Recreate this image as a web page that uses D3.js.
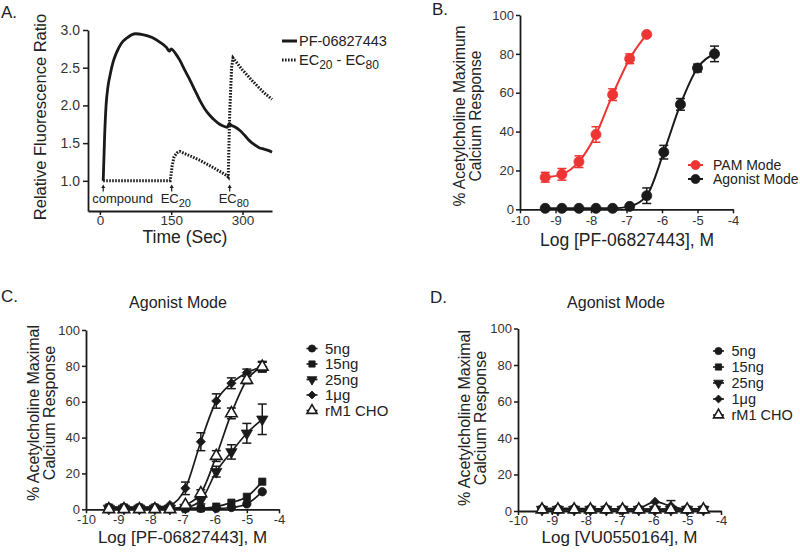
<!DOCTYPE html>
<html><head><meta charset="utf-8">
<script src="https://cdn.jsdelivr.net/npm/d3@7"></script>
<style>
body{margin:0;background:#fff}
svg{display:block}
text{font-family:"Liberation Sans",Arial,Helvetica,sans-serif;fill:#222}
</style>
</head><body>
<svg id="c" width="800" height="552"></svg>
<script>
// ---------------- Panel A data ----------------
const timeSolid  = [7, 10, 13, 17, 22, 28, 35, 45, 58, 75, 90, 110, 126, 140, 146, 150, 154, 160, 168, 180, 190, 200, 210, 220, 231, 242, 252, 262, 268, 272, 276, 285, 294, 305, 315, 325, 335, 345, 355, 362];
const ratioSolid = [1.0, 1.6, 2.0, 2.25, 2.42, 2.58, 2.7, 2.82, 2.9, 2.95, 2.94, 2.9, 2.84, 2.77, 2.72, 2.75, 2.73, 2.68, 2.6, 2.45, 2.33, 2.2, 2.07, 1.96, 1.87, 1.8, 1.75, 1.72, 1.71, 1.76, 1.74, 1.71, 1.67, 1.6, 1.53, 1.48, 1.44, 1.42, 1.40, 1.38];
const timeDotted  = [7, 148, 152, 156, 162, 168, 190, 211, 240, 267, 270, 273, 277, 280, 290, 300, 323, 345, 362];
const ratioDotted = [1.0, 1.0, 1.2, 1.32, 1.37, 1.39, 1.33, 1.27, 1.17, 1.07, 1.05, 1.9, 2.5, 2.63, 2.55, 2.47, 2.31, 2.17, 2.08];
const timeTicks  = [0, 150, 300];
const ratioTicks = [1.0, 1.5, 2.0, 2.5, 3.0];
const eventTimes  = [7, 151, 273];
const eventLabels = ["compound", "EC|20", "EC|80"];

// ---------------- Dose-response data ----------------
const logConc = [-9.29, -8.82, -8.34, -7.86, -7.39, -6.91, -6.43, -5.95, -5.48, -5.0, -4.52];
const logTicks = [-10, -9, -8, -7, -6, -5, -4];
const pctTicks = [0, 20, 40, 60, 80, 100];

// Panel B
const pamMean = [16.5, 18, 24.5, 38.5, 59, 77.5, 90];
const pamErr  = [2.5, 3, 3, 4, 3, 2.5, 1];
const agoMean = [0.5, 0.5, 0.5, 0.5, 0.5, 1.5, 7, 29.4, 54, 72.7, 80];
const agoErr  = [0.5, 0.5, 0.5, 0.5, 0.5, 1, 4, 3.5, 3, 2, 4];

// Panel C (PF-06827443, agonist mode)
const c5ng   = [1, 1, 1, 1, 0.5, 0.5, 0.5, 0.5, 1, 3, 9.8];
const c15ng  = [1, 1, 1, 1, 0.5, 0.5, 0.5, 1.5, 3.7, 7, 15.4];
const c25ng  = [0.5, 0.5, 0.5, 0.5, 0.5, 1, 5, 21, 32, 42.4, 50.2];
const c1ug   = [1.2, 1.2, 1.2, 1.2, 2.4, 11.7, 37.7, 60.4, 70.3, 76.2, 79.5];
const cCHO   = [0, 0, 0, 0, 0, 2.4, 8.9, 29.7, 53.5, 72.1, 79.5];
const c5ngE  = [0.5, 0.5, 0.5, 0.5, 0.5, 0.5, 0.5, 0.5, 0.5, 1, 1];
const c15ngE = [0.5, 0.5, 0.5, 0.5, 0.5, 0.5, 0.5, 0.5, 1, 1, 1];
const c25ngE = [0.5, 0.5, 0.5, 0.5, 0.5, 1, 2, 3, 4, 5.5, 8.5];
const c1ugE  = [0.5, 0.5, 0.5, 0.5, 1, 3.5, 5, 4, 3, 2, 2.5];
const cCHOE  = [0.5, 0.5, 0.5, 0.5, 0.5, 1, 2, 3, 3, 2, 3];

// Panel D (VU0550164, agonist mode)
const d5ng   = [1.2, 1.2, 1.2, 1.2, 1.2, 1, 1, 1, 1, 1, 1];
const d15ng  = [0.8, 0.8, 0.8, 0.8, 0.8, 0.8, 0.8, 0.8, 0.8, 0.8, 0.8];
const d25ng  = [0.8, 0.8, 0.8, 0.8, 0.8, 0.8, 0.8, 0.8, 0.8, 0.8, 0.8];
const d1ug   = [1.5, 1.5, 1.5, 1.2, 1, 1, 1.5, 5, 2.7, 1, 1.5];
const dCHO   = [0.8, 0.8, 0.8, 0.8, 0.8, 0.8, 0.8, 0.8, 0.8, 0.8, 0.8];
const dErr   = [0.5, 0.5, 0.5, 0.5, 0.5, 0.5, 0.5, 1, 3, 0.5, 0.5];

const seriesNames = ["5ng", "15ng", "25ng", "1\u03bcg", "rM1 CHO"];
const seriesShapes = ["circle", "square", "invtri", "diamond", "opentri"];

const svg = d3.select("#c");
const INK = "#1a1a1a";
const RED = "#ef3434";
const intFmt = d => (d < 0 ? "-" + Math.abs(d) : String(d));

function styleAxis(g, fs) {
  g.select(".domain").attr("stroke", INK).attr("stroke-width", 1.8);
  g.selectAll(".tick line").attr("stroke", INK).attr("stroke-width", 1.5);
  g.selectAll(".tick text").attr("font-size", fs).style("fill", "#333");
}

function marker(g, shape, x, y, color, k) {
  k = k || 1;
  const s = g.append("path").attr("transform", `translate(${x},${y})`);
  if (shape === "circle") s.attr("d", d3.symbol(d3.symbolCircle, 55 * k)());
  else if (shape === "bigcircle") s.attr("d", d3.symbol(d3.symbolCircle, 80 * k)());
  else if (shape === "square") s.attr("d", d3.symbol(d3.symbolSquare, 52 * k)());
  else if (shape === "invtri") s.attr("d", d3.symbol(d3.symbolTriangle, 55 * k)()).attr("transform", `translate(${x},${y}) rotate(180)`);
  else if (shape === "diamond") s.attr("d", d3.symbol(d3.symbolSquare, 42 * k)()).attr("transform", `translate(${x},${y}) rotate(45)`);
  else if (shape === "opentri") s.attr("d", d3.symbol(d3.symbolTriangle, 58 * k)());
  if (shape === "opentri") s.attr("fill", "#fff").attr("stroke", color).attr("stroke-width", 1.6);
  else s.attr("fill", color).attr("stroke", color).attr("stroke-width", 0.8);
}

// ---------------- Panel A ----------------
(function(){
  const x = d3.scaleLinear().domain([-25, 362]).range([88, 272]);
  const y = d3.scaleLinear().domain([0.6, 3.0]).range([211, 30]);
  const g = svg.append("g");
  const ax = g.append("g").attr("transform", "translate(0,211)")
    .call(d3.axisBottom(x).tickValues(timeTicks).tickFormat(intFmt).tickSize(4).tickPadding(0).tickSizeOuter(0));
  styleAxis(ax, 13.5);
  const ay = g.append("g").attr("transform", "translate(88,0)")
    .call(d3.axisLeft(y).tickValues(ratioTicks).tickFormat(d3.format(".1f")).tickSize(5).tickPadding(3).tickSizeOuter(0));
  styleAxis(ay, 14);

  const dotted = timeDotted.map((t, i) => [t, ratioDotted[i]]);
  const solid = timeSolid.map((t, i) => [t, ratioSolid[i]]);
  g.append("path").attr("d", d3.line().x(d => x(d[0])).y(d => y(d[1]))(dotted))
    .attr("fill", "none").attr("stroke", INK)
    .attr("stroke-width", 3).attr("stroke-dasharray", "1.6,1.4");
  g.append("path").attr("d", d3.line().x(d => x(d[0])).y(d => y(d[1])).curve(d3.curveMonotoneX)(solid))
    .attr("fill", "none").attr("stroke", INK).attr("stroke-width", 2.8);

  eventTimes.forEach((t, i) => {
    const px = x(t);
    g.append("line").attr("x1", px).attr("x2", px).attr("y1", 187).attr("y2", 191.5).attr("stroke", INK).attr("stroke-width", 1.2);
    g.append("path").attr("d", `M${px-2},${188} L${px},${184.5} L${px+2},${188} Z`).attr("fill", INK);
    const parts = eventLabels[i].split("|");
    const tx = g.append("text").attr("x", px - 11).attr("y", 203).attr("font-size", 13);
    tx.append("tspan").text(parts[0]);
    if (parts[1]) tx.append("tspan").attr("font-size", 11).attr("dy", 3.5).text(parts[1]);
  });

  g.append("text").attr("x", 185).attr("y", 243).attr("text-anchor", "middle").attr("font-size", 17.5).text("Time (Sec)");
  g.append("text").attr("transform", "translate(46,117) rotate(-90)").attr("text-anchor", "middle").attr("font-size", 16.5).text("Relative Fluorescence Ratio");
  g.append("text").attr("x", 1).attr("y", 18).attr("font-size", 17).text("A.");

  // legend
  g.append("line").attr("x1", 282).attr("x2", 297).attr("y1", 41).attr("y2", 41).attr("stroke", INK).attr("stroke-width", 3);
  g.append("text").attr("x", 299).attr("y", 46).attr("font-size", 14.5).text("PF-06827443");
  g.append("line").attr("x1", 282).attr("x2", 297).attr("y1", 60).attr("y2", 60).attr("stroke", INK).attr("stroke-width", 3).attr("stroke-dasharray", "1.6,1.4");
  const lt = g.append("text").attr("x", 299).attr("y", 65).attr("font-size", 14.5);
  lt.append("tspan").text("EC");
  lt.append("tspan").attr("font-size", 12).attr("dy", 4).text("20");
  lt.append("tspan").attr("dy", -4).text(" - EC");
  lt.append("tspan").attr("font-size", 12).attr("dy", 4).text("80");
})();

// ---------------- Dose-response panel helper ----------------
function dosePanel(cfg) {
  const x = d3.scaleLinear().domain([-10, -4]).range([cfg.x0, cfg.x1]);
  const y = d3.scaleLinear().domain([0, 100]).range([cfg.yb, cfg.yt]);
  const g = svg.append("g");
  const ax = g.append("g").attr("transform", `translate(0,${cfg.yb})`)
    .call(d3.axisBottom(x).tickValues(logTicks).tickFormat(intFmt).tickSize(4).tickPadding(cfg.xpad).tickSizeOuter(0));
  styleAxis(ax, 13);
  const ay = g.append("g").attr("transform", `translate(${cfg.x0},0)`)
    .call(d3.axisLeft(y).tickValues(pctTicks).tickFormat(intFmt).tickSize(4).tickPadding(2).tickSizeOuter(0));
  styleAxis(ay, 13);

  const line = d3.line().x(d => x(d[0])).y(d => y(d[1])).curve(d3.curveMonotoneX);
  cfg.series.forEach(s => {
    const pts = s.mean.map((m, i) => [logConc[i], m]);
    g.append("path").attr("d", line(pts)).attr("fill", "none").attr("stroke", s.color).attr("stroke-width", cfg.lw);
  });
  cfg.series.forEach(s => {
    s.mean.forEach((m, i) => {
      const e = s.err[i];
      if (e < 1.2) return;
      const px = x(logConc[i]);
      g.append("line").attr("x1", px).attr("x2", px).attr("y1", y(m - e)).attr("y2", y(m + e)).attr("stroke", s.color).attr("stroke-width", 1.5);
      [m - e, m + e].forEach(v => g.append("line").attr("x1", px - 4.5).attr("x2", px + 4.5).attr("y1", y(v)).attr("y2", y(v)).attr("stroke", s.color).attr("stroke-width", 1.5));
    });
  });
  cfg.series.forEach(s => {
    s.mean.forEach((m, i) => marker(g, s.shape, x(logConc[i]), y(m), s.color));
  });
  return g;
}

// ---------------- Panel B ----------------
(function(){
  const g = dosePanel({x0: 520, x1: 733, yb: 209.3, yt: 15, lw: 2, xpad: 2,
    series: [
      {mean: pamMean, err: pamErr, color: RED, shape: "bigcircle"},
      {mean: agoMean, err: agoErr, color: INK, shape: "bigcircle"}
    ]});
  g.append("text").attr("x", 432).attr("y", 15).attr("font-size", 17).text("B.");
  g.append("text").attr("x", 627).attr("y", 246).attr("text-anchor", "middle").attr("font-size", 17.5).text("Log [PF-06827443], M");
  g.append("text").attr("transform", "translate(465,116) rotate(-90)").attr("text-anchor", "middle").attr("font-size", 15.6).text("% Acetylcholine Maximum");
  g.append("text").attr("transform", "translate(481,116) rotate(-90)").attr("text-anchor", "middle").attr("font-size", 15.6).text("Calcium Response");
  [["PAM Mode", RED, 165], ["Agonist Mode", INK, 179]].forEach(([t, c, yy]) => {
    g.append("line").attr("x1", 688).attr("x2", 703).attr("y1", yy).attr("y2", yy).attr("stroke", c).attr("stroke-width", 2);
    marker(g, "bigcircle", 695.5, yy, c, 0.8);
    g.append("text").attr("x", 713).attr("y", yy + 5).attr("font-size", 14).text(t);
  });
})();

// ---------------- Panels C and D ----------------
function agonistPanel(cfg, data, errs) {
  const g = dosePanel({x0: cfg.x0, x1: cfg.x1, yb: cfg.yb, yt: cfg.yt, lw: 1.7, xpad: 1,
    series: data.map((d, i) => ({mean: d, err: errs[i], color: INK, shape: seriesShapes[i]}))});
  g.append("text").attr("x", cfg.letterX).attr("y", cfg.letterY).attr("font-size", 17).text(cfg.letter);
  g.append("text").attr("x", cfg.titleX).attr("y", 308).attr("text-anchor", "middle").attr("font-size", 16).text("Agonist Mode");
  g.append("text").attr("x", (cfg.x0 + cfg.x1) / 2).attr("y", 543).attr("text-anchor", "middle").attr("font-size", 17).text(cfg.xlabel);
  g.append("text").attr("transform", `translate(${cfg.yl1},${cfg.ylc}) rotate(-90)`).attr("text-anchor", "middle").attr("font-size", 16).text("% Acetylcholine Maximal");
  g.append("text").attr("transform", `translate(${cfg.yl1 + 16},${cfg.ylc}) rotate(-90)`).attr("text-anchor", "middle").attr("font-size", 16).text("Calcium Response");
  seriesNames.forEach((n, i) => {
    const yy = cfg.legY + i * cfg.legDy;
    g.append("line").attr("x1", cfg.legX - 5.5).attr("x2", cfg.legX + 5.5).attr("y1", yy).attr("y2", yy).attr("stroke", INK).attr("stroke-width", 1.6);
    marker(g, seriesShapes[i], cfg.legX, yy, INK, 0.75);
    g.append("text").attr("x", cfg.legX + 13).attr("y", yy + 5).attr("font-size", cfg.legFs).text(n);
  });
}

agonistPanel({x0: 86, x1: 279, yb: 509.3, yt: 330, letter: "C.", letterX: 1, letterY: 302,
  titleX: 178, xlabel: "Log [PF-06827443], M", yl1: 39, ylc: 413,
  legX: 312, legY: 348.5, legDy: 15.5, legFs: 15},
  [c5ng, c15ng, c25ng, c1ug, cCHO], [c5ngE, c15ngE, c25ngE, c1ugE, cCHOE]);

agonistPanel({x0: 518, x1: 721, yb: 511, yt: 328.5, letter: "D.", letterX: 430, letterY: 303,
  titleX: 616, xlabel: "Log [VU0550164], M", yl1: 470, ylc: 418,
  legX: 718.5, legY: 351, legDy: 16, legFs: 14.5},
  [d5ng, d15ng, d25ng, d1ug, dCHO], [dErr.map(() => 0.5), dErr.map(() => 0.5), dErr.map(() => 0.5), dErr, dErr.map(() => 0.5)]);
</script>
</body></html>
